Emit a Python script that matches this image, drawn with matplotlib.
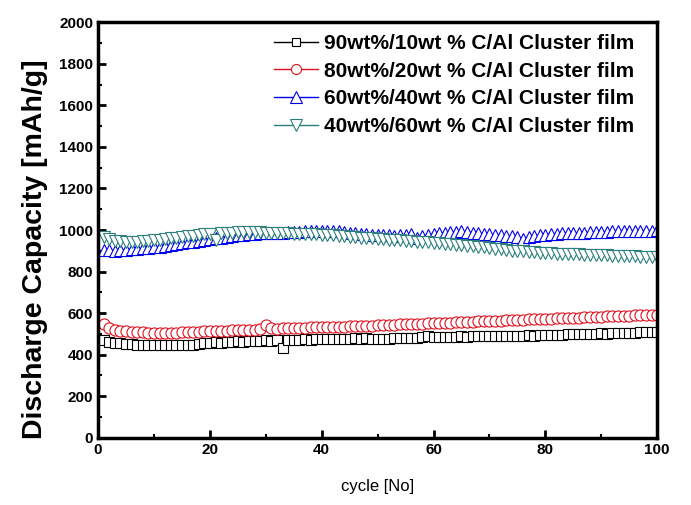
import matplotlib
matplotlib.use("Agg")
import matplotlib.pyplot as plt
from matplotlib.ticker import MultipleLocator

plt.rcParams['font.family'] = ['Liberation Sans', 'DejaVu Sans']

cycles = list(range(1, 101))

# 90wt%/10wt%
cap_90 = [470, 462, 458, 455, 452, 450, 449, 448, 447, 446,
          446, 445, 447, 448, 447, 446, 448, 452, 455, 458,
          460, 458, 461, 462, 465, 463, 466, 467, 468, 470,
          468, 471, 430, 472, 470, 473, 474, 472, 475, 476,
          475, 477, 476, 478, 477, 479, 478, 480, 478, 476,
          478, 477, 479, 481, 480, 482, 481, 483, 490, 484,
          486, 485, 487, 486, 488, 487, 489, 488, 490, 489,
          488, 490, 491, 489, 492, 490, 493, 492, 495, 494,
          496, 495, 497, 499, 498, 500, 499, 501, 500, 503,
          502, 504, 505, 503, 506, 505, 508, 507, 510, 509]

# 80wt%/20wt%
cap_80 = [550, 530, 520, 515, 512, 510, 508, 507, 506, 505,
          505, 504, 505, 506, 507, 508, 510, 511, 512, 513,
          514, 515, 516, 517, 518, 519, 520, 521, 522, 545,
          528, 526, 527, 528, 529, 530, 530, 531, 532, 533,
          533, 534, 535, 535, 536, 537, 538, 539, 540, 541,
          542, 543, 545, 546, 547, 548, 549, 550, 551, 552,
          553, 554, 555, 556, 557, 558, 559, 560, 561, 562,
          563, 564, 566, 567, 568, 569, 570, 571, 572, 573,
          574, 575, 576, 577, 578, 579, 580, 581, 582, 583,
          584, 585, 586, 587, 588, 589, 590, 591, 592, 593]

# 60wt%/40wt%
cap_60 = [905, 902, 900, 903, 906, 908, 910, 912, 915, 918,
          920, 924, 928, 932, 936, 940, 944, 948, 952, 956,
          960, 964, 968, 972, 975, 978, 980, 982, 984, 985,
          986, 987, 988, 990, 991, 992, 993, 994, 995, 996,
          995, 994, 993, 990, 988, 985, 983, 980, 978, 975,
          976, 974, 972, 975, 978, 980, 960, 970, 975, 980,
          985, 988, 990, 992, 994, 990, 988, 985, 982, 980,
          978, 975, 972, 970, 968, 955, 965, 970, 975, 978,
          980, 982, 984, 985, 986, 987, 988, 989, 990, 991,
          992, 993, 993, 994, 995, 995, 996, 996, 997, 998]

# 40wt%/60wt%
cap_40 = [965, 955, 948, 945, 943, 942, 944, 946, 948, 950,
          953, 956, 960, 963, 966, 970, 973, 976, 980, 982,
          950, 985, 987, 988, 989, 990, 990, 990, 989, 988,
          987, 986, 985, 984, 983, 982, 981, 980, 979, 978,
          976, 974, 972, 970, 968, 966, 964, 962, 960, 958,
          956, 954, 952, 950, 948, 946, 944, 942, 940, 938,
          936, 934, 932, 930, 928, 925, 922, 919, 916, 913,
          910, 907, 904, 901, 899, 897, 895, 893, 891, 889,
          888, 887, 886, 885, 884, 883, 882, 881, 880, 879,
          878, 877, 876, 875, 874, 873, 872, 871, 870, 869]

labels = ["90wt%/10wt % C/Al Cluster film",
          "80wt%/20wt % C/Al Cluster film",
          "60wt%/40wt % C/Al Cluster film",
          "40wt%/60wt % C/Al Cluster film"]

fig = plt.figure(figsize=(6.91, 5.05), dpi=100)
ax = fig.add_axes([0.142, 0.133, 0.809, 0.823])

ax.plot(cycles, cap_90, color='black', marker='s', ms=7, mfc='white', mew=0.8, lw=1, label=labels[0])
ax.plot(cycles, cap_80, color='#e0101e', marker='o', ms=8, mfc='white', mew=0.8, lw=1, label=labels[1])
ax.plot(cycles, cap_60, color='#0000ee', marker='^', ms=9, mfc='white', mew=0.8, lw=1, label=labels[2])
ax.plot(cycles, cap_40, color='#2a7f7a', marker='v', ms=9, mfc='white', mew=0.8, lw=1, label=labels[3])

ax.set_xlim(0, 100)
ax.set_ylim(0, 2000)
ax.xaxis.set_major_locator(MultipleLocator(20))
ax.xaxis.set_minor_locator(MultipleLocator(10))
ax.yaxis.set_major_locator(MultipleLocator(200))
ax.yaxis.set_minor_locator(MultipleLocator(100))

for s in ax.spines.values():
    s.set_linewidth(2.5)
ax.tick_params(which='major', direction='in', length=6, width=2, labelsize=11)
ax.tick_params(which='minor', direction='in', length=3, width=1.5)
ax.tick_params(axis='both', which='both', top=False, right=False)
for t in ax.get_xticklabels() + ax.get_yticklabels():
    t.set_fontweight('bold')

ax.set_xlabel("cycle [No]", fontsize=12, labelpad=16)
ax.set_ylabel("Discharge Capacity [mAh/g]", fontsize=20.5, fontweight='bold')
ax.yaxis.set_label_coords(-0.09, 0.455)

ax.legend(loc='upper right', bbox_to_anchor=(1.0, 1.027), frameon=False,
          prop={'weight': 'bold', 'size': 15},
          handlelength=2.1, handletextpad=0.3, labelspacing=0.42,
          borderaxespad=0.9, borderpad=0.2, markerscale=0.9)

fig.savefig("out.png", dpi=100)
